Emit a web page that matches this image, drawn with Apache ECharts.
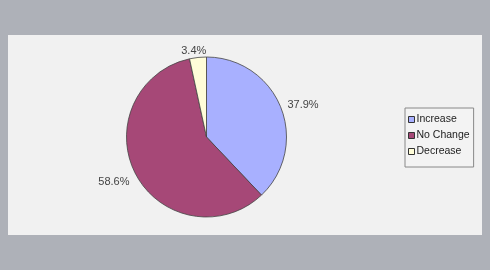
<!DOCTYPE html>
<html><head><meta charset="utf-8">
<script src="https://cdn.jsdelivr.net/npm/echarts@6/dist/echarts.min.js"></script>
<style>
html,body{margin:0;padding:0;width:490px;height:270px;background:#aeb1b8;overflow:hidden;}
#panel{position:absolute;left:8px;top:35px;width:474px;height:200px;background:#f1f1f1;}
</style></head><body>
<div id="panel"></div>
<script>
const categories = ['Increase', 'No Change', 'Decrease'];
const values = [37.9, 58.6, 3.4];
const colors = ['#a8b0ff', '#a64877', '#fffdd8'];
const labelShift = [[-4, 0], [4, 5], [14, -1]];

const chart = echarts.init(document.getElementById('panel'), null, {renderer: 'canvas'});
chart.setOption({
  animation: false,
  textStyle: {fontFamily: 'Liberation Sans, Arial, sans-serif'},
  legend: {
    orient: 'vertical', left: 397, top: 73,
    data: categories,
    itemWidth: 6, itemHeight: 6, itemGap: 5,
    padding: [6, 4, 10, 3],
    borderColor: '#888', borderWidth: 1, backgroundColor: '#f3f3f3',
    icon: 'rect',
    itemStyle: {borderColor: '#333', borderWidth: 1},
    textStyle: {fontSize: 10.5, color: '#222', padding: [0, 0, 0, -3], lineHeight: 11}
  },
  series: [{
    type: 'pie',
    center: [198.5, 102], radius: 80,
    startAngle: 90, clockwise: true,
    data: categories.map((c, i) => ({name: c, value: values[i], itemStyle: {color: colors[i]}})),
    itemStyle: {borderColor: '#444', borderWidth: 0.8},
    label: {show: true, position: 'outside', formatter: p => p.value.toFixed(1) + '%', fontSize: 11, color: '#444'},
    labelLine: {show: false, length: 6, length2: 0},
    labelLayout: p => ({dx: labelShift[p.dataIndex][0], dy: labelShift[p.dataIndex][1]}),
    emphasis: {disabled: true}
  }]
});
</script></body></html>
